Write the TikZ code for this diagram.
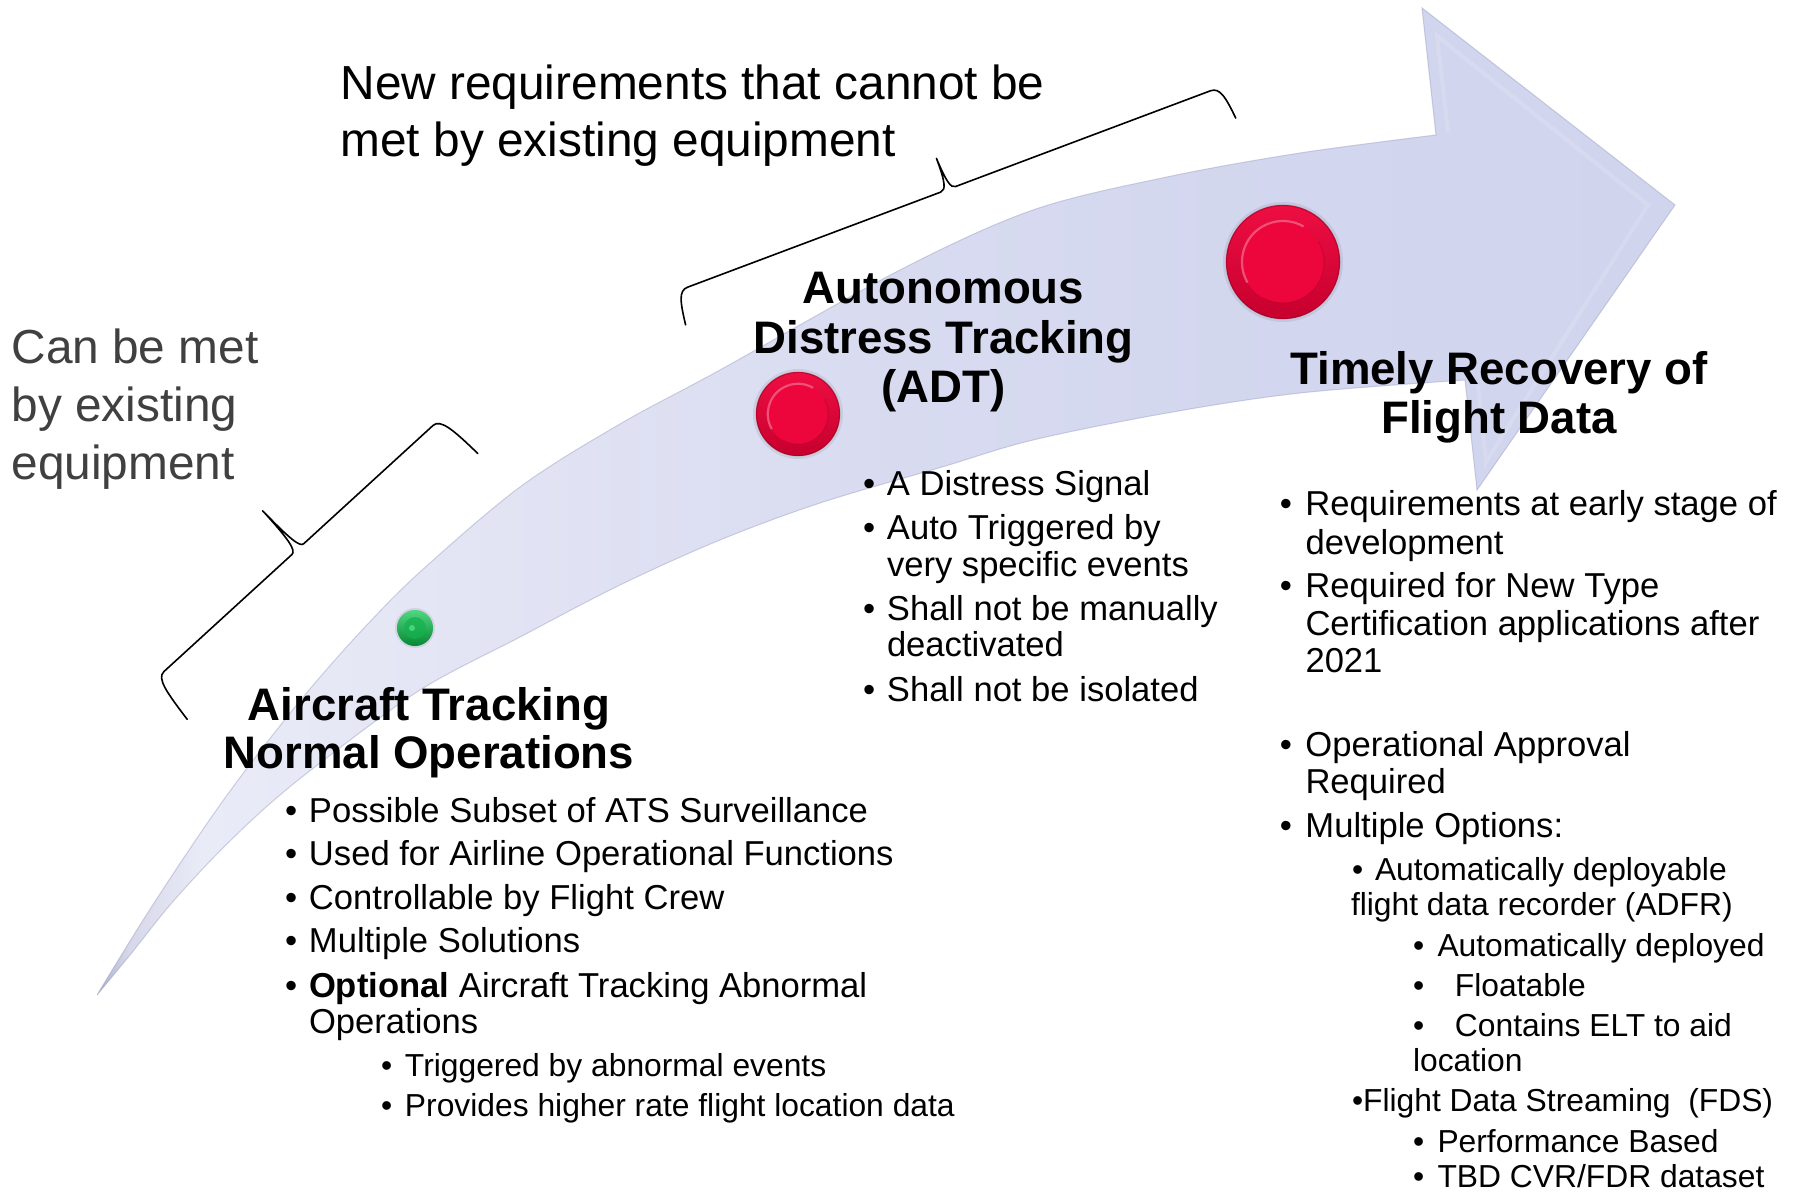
\documentclass[tikz,border=0pt]{standalone}
\usepackage{fontspec}
\setmainfont{Liberation Sans}
\usetikzlibrary{calc}

% colours
\definecolor{capgray}{RGB}{64,64,64}
\definecolor{arrowA}{RGB}{172,175,202}
\definecolor{arrowB}{RGB}{214,216,234}
\definecolor{arrowC}{RGB}{233,235,247}
\definecolor{arrowD}{RGB}{226,228,244}
\definecolor{arrowE}{RGB}{216,219,240}
\definecolor{arrowF}{RGB}{210,214,238}
\definecolor{arrowG}{RGB}{208,212,237}
\definecolor{arrowline}{RGB}{160,165,200}
\definecolor{redtop}{RGB}{238,14,66}
\definecolor{redbottom}{RGB}{198,0,46}
\definecolor{reddark}{RGB}{150,0,34}
\definecolor{redinner}{RGB}{236,6,60}
\definecolor{redrim}{RGB}{246,110,145}
\definecolor{greenlight}{RGB}{80,215,130}
\definecolor{greendark}{RGB}{6,135,52}
\definecolor{greeninner}{RGB}{20,178,78}

% body colour of the curved arrow, from tail (left) to head (right)
\pgfdeclarehorizontalshading{arrowshade}{100bp}{%
  color(0bp)=(arrowA); color(25bp)=(arrowA); color(26bp)=(arrowB);
  color(28.3bp)=(arrowC); color(37.8bp)=(arrowD); color(50.4bp)=(arrowE);
  color(63bp)=(arrowF); color(75bp)=(arrowG); color(100bp)=(arrowG)}

% bullet hanging to the left of a line of text
\newcommand\bmark[1]{\llap{\makebox[#1][l]{•}}}

% glossy round marker: centre, radius
\newcommand\drawbutton[2]{%
  \fill[black,opacity=0.07,shift={(2,7)}] (#1) circle ({#2+3});
  \fill[black,opacity=0.13,shift={(1,4)}] (#1) circle ({#2+0.5});
  \shade[top color=redtop, bottom color=redbottom] (#1) circle (#2);
  \draw[reddark,opacity=0.45,line width=0.6pt] (#1) circle ({#2-0.5});
  \fill[redinner,shift={(-1,-1)}] (#1) circle ({0.72*#2});
  \draw[redrim,opacity=0.7,line width=1.1pt,shift={(-1,-1)}] (#1) ++(150:{0.72*#2})
     arc[start angle=150,end angle=300,radius={0.72*#2}];
  \draw[reddark,opacity=0.25,line width=0.6pt,shift={(-1,-1)}] (#1) ++(330:{0.72*#2})
     arc[start angle=-30,end angle=120,radius={0.72*#2}];
}

\begin{document}
\begin{tikzpicture}[x=0.5pt,y=-0.5pt,
  txt/.style={anchor=base west,inner sep=0pt,outer sep=0pt,text=black},
  graycap/.style={txt,text=capgray,font=\fontsize{23.9}{28}\selectfont},
  topcap/.style={txt,font=\fontsize{23.9}{28}\selectfont},
  ttl/.style={anchor=base,inner sep=0pt,outer sep=0pt,font=\fontsize{22.8}{24}\selectfont\bfseries},
  bl/.style={txt,font=\fontsize{17.3}{20}\selectfont},
  sb/.style={txt,font=\fontsize{15.9}{19}\selectfont},
  bracestroke/.style={draw=black,line width=0.8pt,line cap=round,line join=round}]

\fill[white] (0,0) rectangle (1794,1192);
\useasboundingbox (0,0) rectangle (1794,1192);

% ---- curved arrow ----
\shadedraw[shading=arrowshade,draw=arrowline,draw opacity=0.5,line width=0.5pt,line join=miter]
  (97,995) -- plot[smooth,tension=0.55] coordinates {(97,995) (140,925) (183,859) (225,798)
     (268,741) (315,683) (365,627) (420,572) (520,487) (620,424) (720,370) (900,270)
     (1033,210) (1167,177) (1300,153) (1436,135)}
  -- (1422,8) -- (1675,205) -- (1477,490) -- (1465,380)
  -- plot[smooth,tension=0.55] coordinates {(1465,380) (1300,393) (1167,413) (1033,440)
     (942,467) (820,503) (720,540) (620,585) (520,637) (420,690) (320,763) (265,808)
     (215,856) (170,905) (130,955) (97,995)}
  -- cycle;
% bevel of the arrow head
\draw[white,opacity=0.16,line width=2pt,line join=miter]
  (1448,132) -- (1437,36) -- (1648,205) -- (1486,462) -- (1478,385);

% ---- braces ----
\begin{scope}[shift={(298.5,548.5)},x={(0.3688pt,0.3373pt)},y={(0.3373pt,-0.3688pt)}]
  \draw[bracestroke] (196.5,51) .. controls (194.5,18) and (192.5,0) .. (182.5,0)
    -- (7,0) .. controls (2,0) and (0,-13) .. (-1,-52)
    .. controls (-1,-13) and (-3,0) .. (-9,0) -- (-182.5,0)
    .. controls (-192.5,0) and (-194.5,18) .. (-197.5,51);
\end{scope}
\begin{scope}[shift={(949,189)},x={(0.468pt,0.1758pt)},y={(0.1758pt,-0.468pt)}]
  \draw[bracestroke] (293.4,34.5) .. controls (291.4,12) and (289.4,0) .. (279.4,0)
    -- (7,0) .. controls (2,0) and (0,-8) .. (-1,-33)
    .. controls (-1,-8) and (-3,0) .. (-9,0) -- (-279.4,0)
    .. controls (-289.4,0) and (-291.4,12) .. (-294.4,34.5);
\end{scope}

% ---- markers ----
\coordinate (mkgreen) at (415,628);
\coordinate (mkadt) at (798,414);
\coordinate (mkrec) at (1283,262);
\fill[black,opacity=0.08,shift={(1,5)}] (mkgreen) circle (20);
\fill[black,opacity=0.14,shift={(1,3)}] (mkgreen) circle (18);
\shade[top color=greenlight,bottom color=greendark] (mkgreen) circle (18);
\fill[greeninner,opacity=0.7] (mkgreen) circle (11);
\fill[greenlight,opacity=0.9] ($(mkgreen)+(-3,0)$) circle (3);
\drawbutton{mkadt}{42}
\drawbutton{mkrec}{57}

% ---- side captions ----
\node[graycap] (c1) at (11.5,363.5) {Can be met};
\node[graycap] (c2) at (11.5,422) {by existing};
\node[graycap] (c3) at (11.5,480) {equipment};
\node[topcap] (n1) at (340.5,99.5) {New requirements that cannot be};
\node[topcap] (n2) at (340.5,156.7) {met by existing equipment};

% ---- stage titles ----
\node[ttl] (a1) at (943.5,303.5) {Autonomous};
\node[ttl] (a2) at (943.5,354) {Distress Tracking};
\node[ttl] (a3) at (943.5,403) {(ADT)};
\node[ttl] (r1) at (1499,385) {Timely Recovery of};
\node[ttl] (r2) at (1499,434) {Flight Data};
\node[ttl] (t1) at (429,720) {Aircraft Tracking};
\node[ttl] (t2) at (429,768.5) {Normal Operations};

% ---- aircraft tracking list ----
\node[bl] (p1) at (309,822) {\bmark{12pt}Possible Subset of ATS Surveillance};
\node[bl] (p2) at (309,865.5) {\bmark{12pt}Used for Airline Operational Functions};
\node[bl] (p3) at (309,909) {\bmark{12pt}Controllable by Flight Crew};
\node[bl] (p4) at (309,952.5) {\bmark{12pt}Multiple Solutions};
\node[bl] (p5) at (309,997) {\bmark{12pt}\textbf{Optional} Aircraft Tracking Abnormal};
\node[bl] (p6) at (309,1033.5) {Operations};
\node[sb] (p7) at (405,1076.5) {\bmark{12pt}Triggered by abnormal events};
\node[sb] (p8) at (405,1116) {\bmark{12pt}Provides higher rate flight location data};

% ---- ADT list ----
\node[bl] (d1) at (887,495) {\bmark{12pt}A Distress Signal};
\node[bl] (d2) at (887,539.5) {\bmark{12pt}Auto Triggered by};
\node[bl] (d3) at (887,576) {very specific events};
\node[bl] (d4) at (887,620) {\bmark{12pt}Shall not be manually};
\node[bl] (d5) at (887,656.5) {deactivated};
\node[bl] (d6) at (887,701.5) {\bmark{12pt}Shall not be isolated};

% ---- flight data recovery list ----
\node[bl] (f1) at (1305.5,515.5) {\bmark{12.8pt}Requirements at early stage of};
\node[bl] (f2) at (1305.5,554) {development};
\node[bl] (f3) at (1305.5,597.5) {\bmark{12.8pt}Required for New Type};
\node[bl] (f4) at (1305.5,635) {Certification applications after};
\node[bl] (f5) at (1305.5,672.5) {2021};
\node[bl] (f6) at (1305.5,756.5) {\bmark{12.8pt}Operational Approval};
\node[bl] (f7) at (1305.5,793.5) {Required};
\node[bl] (f8) at (1305.5,837.5) {\bmark{12.8pt}Multiple Options:};
\node[sb] (g1) at (1375,880) {\bmark{11.5pt}Automatically deployable};
\node[sb] (g2) at (1351,915.5) {flight data recorder (ADFR)};
\node[sb] (g3) at (1437.5,956.5) {\bmark{12.2pt}Automatically deployed};
\node[sb] (g4) at (1455,996.5) {\bmark{21pt}Floatable};
\node[sb] (g5) at (1455,1036.5) {\bmark{21pt}Contains ELT to aid};
\node[sb] (g6) at (1413,1071.5) {location};
\node[sb] (g7) at (1352,1111) {•Flight Data Streaming\ \ (FDS)};
\node[sb] (g8) at (1437.5,1152) {\bmark{12.2pt}Performance Based};
\node[sb] (g9) at (1437.5,1187) {\bmark{12.2pt}TBD CVR/FDR dataset};
\end{tikzpicture}
\end{document}
